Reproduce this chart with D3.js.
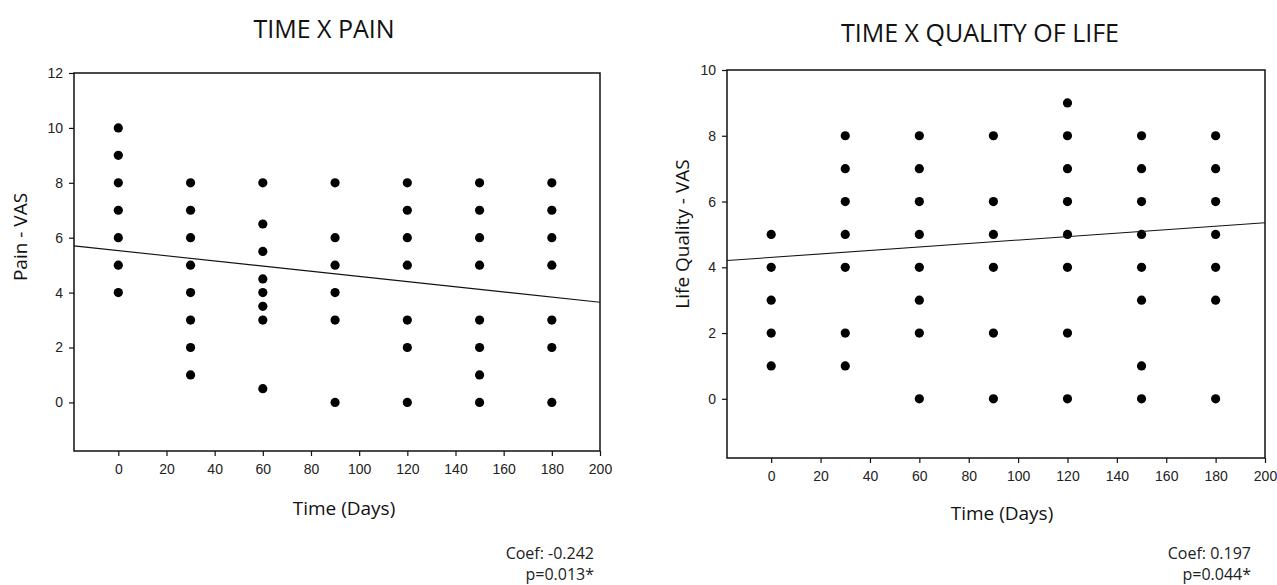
<!DOCTYPE html>
<html>
<head>
<meta charset="utf-8">
<script src="https://cdn.jsdelivr.net/npm/d3@7"></script>
<style>
  html, body { margin: 0; padding: 0; background: #fff; }
  svg { display: block; }
  .tick text { font-family: "Liberation Sans", Arial, sans-serif; font-size: 14px; fill: #222; }
  .title { font-family: "Open Sans", sans-serif; font-size: 25px; fill: #111; }
  .axlabel { font-family: "Open Sans", sans-serif; font-size: 19px; fill: #111; }
  .note { font-family: "Open Sans", sans-serif; font-size: 16px; fill: #222; }
</style>
</head>
<body>
<svg id="chart" width="1277" height="585"></svg>
<script>
// ---- Data ----
const days = [0, 30, 60, 90, 120, 150, 180];
const painScores = [
  [10, 9, 8, 7, 6, 5, 4],
  [8, 7, 6, 5, 4, 3, 2, 1],
  [8, 6.5, 5.5, 4.5, 4, 3.5, 3, 0.5],
  [8, 6, 5, 4, 3, 0],
  [8, 7, 6, 5, 3, 2, 0],
  [8, 7, 6, 5, 3, 2, 1, 0],
  [8, 7, 6, 5, 3, 2, 0]
];
const qolScores = [
  [5, 4, 3, 2, 1],
  [8, 7, 6, 5, 4, 2, 1],
  [8, 7, 6, 5, 4, 3, 2, 0],
  [8, 6, 5, 4, 2, 0],
  [9, 8, 7, 6, 5, 4, 2, 0],
  [8, 7, 6, 5, 4, 3, 1, 0],
  [8, 7, 6, 5, 4, 3, 0]
];
const xTicks = [0, 20, 40, 60, 80, 100, 120, 140, 160, 180, 200];
const painTicks = [0, 2, 4, 6, 8, 10, 12];
const qolTicks = [0, 2, 4, 6, 8, 10];
// fitted lines (intercept at day 0, slope per day) as drawn in the reference
const painFit = { intercept: 5.53, slope: -0.0094 };
const qolFit = { intercept: 4.30, slope: 0.00528 };
const titles = ["TIME X PAIN", "TIME X QUALITY OF LIFE"];
const yLabels = ["Pain - VAS", "Life Quality - VAS"];
const xLabel = "Time (Days)";
const notes = [["Coef: -0.242", "p=0.013*"], ["Coef: 0.197", "p=0.044*"]];

const svg = d3.select("#chart");

function panel(cfg) {
  const x = d3.scaleLinear().domain(cfg.xDomain).range([cfg.left, cfg.right]);
  const y = d3.scaleLinear().domain(cfg.yDomain).range([cfg.bottom, cfg.top]);
  const g = svg.append("g");

  // points
  const pts = [];
  days.forEach((d, i) => cfg.scores[i].forEach(v => pts.push({ d, v })));
  g.append("g").selectAll("circle").data(pts).join("circle")
    .attr("cx", p => x(p.d)).attr("cy", p => y(p.v)).attr("r", 4.6)
    .attr("fill", "#000");

  // regression line
  const fx = cfg.fit;
  g.append("line")
    .attr("x1", x(cfg.xDomain[0])).attr("y1", y(fx.intercept + fx.slope * cfg.xDomain[0]))
    .attr("x2", x(cfg.xDomain[1])).attr("y2", y(fx.intercept + fx.slope * cfg.xDomain[1]))
    .attr("stroke", "#111").attr("stroke-width", 1.1);

  // frame
  g.append("rect")
    .attr("x", cfg.left).attr("y", cfg.top)
    .attr("width", cfg.right - cfg.left).attr("height", cfg.bottom - cfg.top)
    .attr("fill", "none").attr("stroke", "#111").attr("stroke-width", 1.5);

  // axes
  const xa = g.append("g").attr("transform", `translate(0,${cfg.bottom})`)
    .call(d3.axisBottom(x).tickValues(xTicks).tickSize(5).tickPadding(8));
  const ya = g.append("g").attr("transform", `translate(${cfg.left},0)`)
    .call(d3.axisLeft(y).tickValues(cfg.yTicks).tickSize(5).tickPadding(6));
  [xa, ya].forEach(a => {
    a.select(".domain").remove();
    a.selectAll(".tick line").attr("stroke", "#111").attr("stroke-width", 1.2);
  });

  // titles & labels
  g.append("text").attr("class", "title")
    .attr("x", cfg.titleX).attr("y", cfg.titleY).attr("text-anchor", "middle")
    .text(cfg.title);
  g.append("text").attr("class", "axlabel")
    .attr("x", cfg.xLabelX).attr("y", cfg.xLabelY).attr("text-anchor", "middle")
    .text(xLabel);
  g.append("text").attr("class", "axlabel")
    .attr("transform", `translate(${cfg.yLabelX},${cfg.yLabelY}) rotate(-90)`)
    .attr("text-anchor", "middle")
    .text(cfg.yLabel);
  cfg.note.forEach((t, i) => {
    g.append("text").attr("class", "note")
      .attr("x", cfg.noteX).attr("y", 559 + i * 21).attr("text-anchor", "end")
      .text(t);
  });
}

panel({
  left: 74, right: 600, top: 73, bottom: 451,
  xDomain: [-18.4, 200], yDomain: [-1.77, 12],
  scores: painScores, yTicks: painTicks, fit: painFit,
  title: titles[0], titleX: 324, titleY: 38,
  yLabel: yLabels[0], yLabelX: 27, yLabelY: 237,
  xLabelX: 344, xLabelY: 515,
  note: notes[0], noteX: 594
});
panel({
  left: 727, right: 1265, top: 70, bottom: 458,
  xDomain: [-17.9, 200], yDomain: [-1.8, 10],
  scores: qolScores, yTicks: qolTicks, fit: qolFit,
  title: titles[1], titleX: 980, titleY: 42,
  yLabel: yLabels[1], yLabelX: 689, yLabelY: 234,
  xLabelX: 1002, xLabelY: 520,
  note: notes[1], noteX: 1251
});
</script>
</body>
</html>
